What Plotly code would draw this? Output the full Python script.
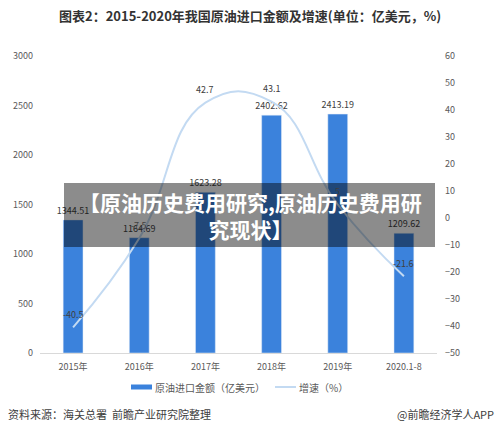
import plotly.graph_objects as go

categories = ["2015年", "2016年", "2017年", "2018年", "2019年", "2020.1-8"]
import_value = [1344.51, 1164.69, 1623.28, 2402.62, 2413.19, 1209.62]
growth = [-40.5, -7.5, 42.7, 43.1, 5.0, -21.6]
left_ticks = [0, 500, 1000, 1500, 2000, 2500, 3000]
right_ticks = [-50, -40, -30, -20, -10, 0, 10, 20, 30, 40, 50, 60]
bar_name = "原油进口金额（亿美元）"
line_name = "增速（%）"

FONT = "Noto Sans CJK SC"
BAR_C = "#3b82dc"
LINE_C = "#c3daf2"
W, H = 500, 432
L, R, T, B = 40, 63, 56, 79
PW, PH = W - L - R, H - T - B

def px(x):
    return (x - L) / PW

def py(y):
    return (H - B - y) / PH

fig = go.Figure()
fig.add_trace(go.Bar(
    x=categories, y=import_value, name=bar_name,
    marker=dict(color=BAR_C), width=0.3,
    text=[f"{v:.2f}" for v in import_value], textposition="outside",
    constraintext="none",
    textfont=dict(size=9, color="#404040", family=FONT), cliponaxis=False,
))
fig.add_trace(go.Scatter(
    x=categories, y=growth, name=line_name, yaxis="y2",
    mode="lines", line=dict(color=LINE_C, width=2, shape="spline", smoothing=1.3),
    cliponaxis=False,
))
for c, g in zip(categories, growth):
    fig.add_annotation(x=c, y=g, xref="x", yref="y2", text=f"{g:g}", showarrow=False,
                       yshift=13, xanchor="center", yanchor="middle",
                       font=dict(size=9, color="#404040", family=FONT))

fig.update_layout(
    width=W, height=H, margin=dict(l=L, r=R, t=T, b=B),
    paper_bgcolor="white", plot_bgcolor="white",
    font=dict(family=FONT, size=9, color="#595959"),
    showlegend=False,
    xaxis=dict(showgrid=False, showline=True, linecolor="#d9d9d9", linewidth=1,
               ticks="", ticklabelstandoff=5, tickfont=dict(size=9, color="#595959")),
    yaxis=dict(range=[0, 3000], tickvals=left_ticks, showgrid=False, zeroline=False,
               showline=False, ticklabelstandoff=6, tickfont=dict(size=9, color="#595959")),
    yaxis2=dict(range=[-50, 60], tickvals=right_ticks, overlaying="y", side="right",
                showgrid=False, zeroline=False, showline=False, ticklabelstandoff=7,
                tickfont=dict(size=9, color="#595959")),
)

# legend drawn manually to match compact layout
fig.add_shape(type="rect", xref="paper", yref="paper",
              x0=px(131), x1=px(152), y0=py(384.5), y1=py(389.5),
              fillcolor=BAR_C, line=dict(width=0))
fig.add_annotation(text=bar_name, xref="paper", yref="paper", x=px(153), y=py(387),
                   xanchor="left", yanchor="middle", showarrow=False,
                   font=dict(size=10, color="#595959", family=FONT))
fig.add_shape(type="line", xref="paper", yref="paper",
              x0=px(275), x1=px(296), y0=py(387), y1=py(387),
              line=dict(color=LINE_C, width=2))
fig.add_annotation(text=line_name, xref="paper", yref="paper", x=px(297), y=py(387),
                   xanchor="left", yanchor="middle", showarrow=False,
                   font=dict(size=10, color="#595959", family=FONT))

fig.add_annotation(
    text="<b>图表2：2015-2020年我国原油进口金额及增速(单位：亿美元，%)</b>",
    xref="paper", yref="paper", x=px(250), y=py(16), xanchor="center", yanchor="middle",
    showarrow=False, font=dict(size=13, color="#333333", family=FONT),
)
fig.add_annotation(
    text="资料来源：海关总署  前瞻产业研究院整理",
    xref="paper", yref="paper", x=px(6), y=py(414), xanchor="left", yanchor="middle",
    showarrow=False, font=dict(size=11, color="#404040", family=FONT),
)
fig.add_annotation(
    text="@前瞻经济学人APP",
    xref="paper", yref="paper", x=px(496), y=py(414), xanchor="right", yanchor="middle",
    showarrow=False, font=dict(size=11, color="#404040", family=FONT),
)

fig.add_shape(type="rect", xref="paper", yref="paper",
              x0=px(64), x1=px(435), y0=py(183), y1=py(247),
              fillcolor="rgba(0,0,0,0.45)", line=dict(width=0), layer="above")
fig.add_annotation(
    text="<b>【原油历史费用研究,原油历史费用研<br>究现状】</b>",
    xref="paper", yref="paper", x=px(250), y=py(215), xanchor="center", yanchor="middle",
    showarrow=False, font=dict(size=21, color="white", family=FONT),
)

fig.write_html("out.html")
